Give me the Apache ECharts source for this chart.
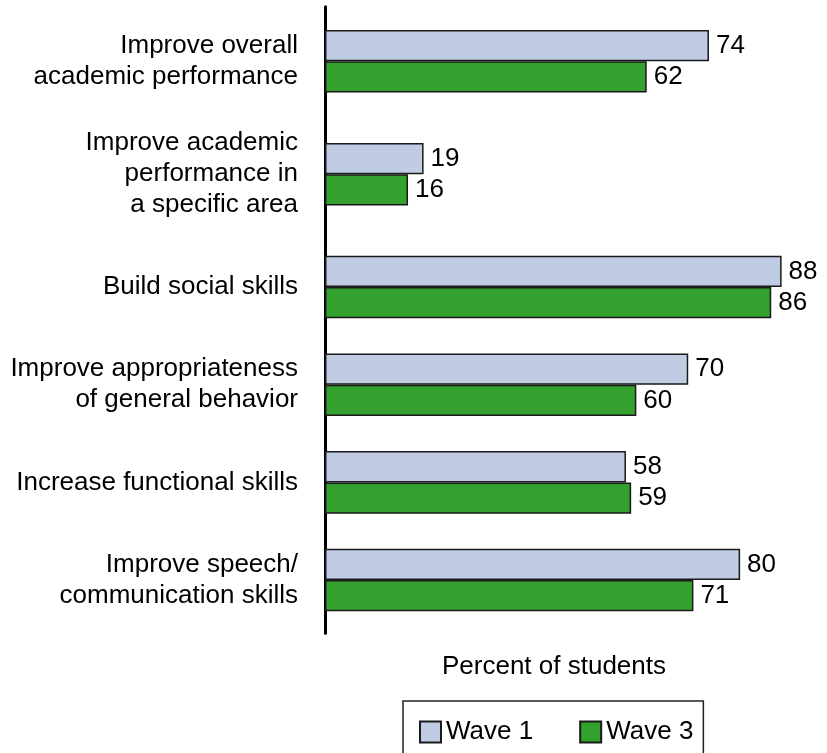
<!DOCTYPE html>
<html>
<head>
<meta charset="utf-8">
<script src="https://cdn.jsdelivr.net/npm/echarts@6/dist/echarts.min.js"></script>
<style>
  html, body { margin: 0; padding: 0; background: #fff; }
  #chart { width: 827px; height: 753px; }
</style>
</head>
<body>
<div id="chart"></div>
<script>
// Goals for students (percent of students), two survey waves
const categories = [
  'Improve overall\nacademic performance',
  'Improve academic\nperformance in\na specific area',
  'Build social skills',
  'Improve appropriateness\nof general behavior',
  'Increase functional skills',
  'Improve speech/\ncommunication skills'
];
const wave1 = [74, 19, 88, 70, 58, 80];
const wave3 = [62, 16, 86, 60, 59, 71];
const seriesNames = ['Wave 1', 'Wave 3'];
const axisTitle = 'Percent of students';

// The first two goals sit in a taller band than the remaining four
const splitAt = 2;

const FONT = '"Liberation Sans", Arial, Helvetica, sans-serif';
const FONT_SIZE = 26;
const TEXT = '#000';
const COLORS = ['#c0cbe4', '#34a02e'];
const PLOT_LEFT = 325;
const PLOT_RIGHT = 35;
const X_MAX = 90;

const groups = [
  { top: 4.8, height: 226, from: 0, to: splitAt },
  { top: 238.2, height: 390.7, from: splitAt, to: categories.length }
];

const grids = [];
const xAxes = [];
const yAxes = [];
const series = [];

groups.forEach(function (g, gi) {
  grids.push({ left: PLOT_LEFT, right: PLOT_RIGHT, top: g.top, height: g.height, containLabel: false });
  const isLast = gi === groups.length - 1;
  xAxes.push({
    type: 'value', gridIndex: gi, min: 0, max: X_MAX,
    axisLine: { show: false }, axisTick: { show: false },
    axisLabel: { show: false }, splitLine: { show: false },
    name: isLast ? axisTitle : '',
    nameLocation: 'middle',
    nameGap: 25,
    nameTextStyle: { fontFamily: FONT, fontSize: FONT_SIZE, color: TEXT, padding: [0, 9, 0, 0] }
  });
  yAxes.push({
    type: 'category', gridIndex: gi, inverse: true,
    data: categories.slice(g.from, g.to),
    axisLine: { show: false }, axisTick: { show: false },
    axisLabel: {
      margin: 27, fontFamily: FONT, fontSize: FONT_SIZE, lineHeight: 31,
      color: TEXT, align: 'right'
    }
  });
  [wave1, wave3].forEach(function (vals, si) {
    series.push({
      type: 'bar', name: seriesNames[si],
      xAxisIndex: gi, yAxisIndex: gi,
      data: vals.slice(g.from, g.to),
      barWidth: 31.3, barGap: '0%',
      itemStyle: { color: COLORS[si], borderColor: '#1a1a1a', borderWidth: 1.5 },
      label: {
        show: true, position: 'right', distance: 7,
        fontFamily: FONT, fontSize: FONT_SIZE, color: TEXT
      },
      emphasis: { disabled: true },
      animation: false
    });
  });
});

// Full-height vertical axis line spanning both bands
grids.push({ left: PLOT_LEFT, right: PLOT_RIGHT, top: 6.7, height: 626.6 });
xAxes.push({ type: 'value', gridIndex: 2, show: false, min: 0, max: 1 });
yAxes.push({
  type: 'value', gridIndex: 2, min: 0, max: 1,
  axisLine: { show: true, lineStyle: { color: '#000', width: 3 } },
  axisTick: { show: false }, axisLabel: { show: false }, splitLine: { show: false }
});

const chart = echarts.init(document.getElementById('chart'), null, { renderer: 'canvas' });
chart.setOption({
  backgroundColor: '#fff',
  animation: false,
  legend: {
    data: seriesNames,
    left: 403, top: 701,
    padding: [18, 10, 18, 16],
    borderColor: '#222', borderWidth: 1.5,
    itemWidth: 21, itemHeight: 21, itemGap: 46,
    icon: 'rect',
    textStyle: { fontFamily: FONT, fontSize: FONT_SIZE, color: TEXT },
    selectedMode: false
  },
  grid: grids,
  xAxis: xAxes,
  yAxis: yAxes,
  series: series
});
</script>
</body>
</html>
